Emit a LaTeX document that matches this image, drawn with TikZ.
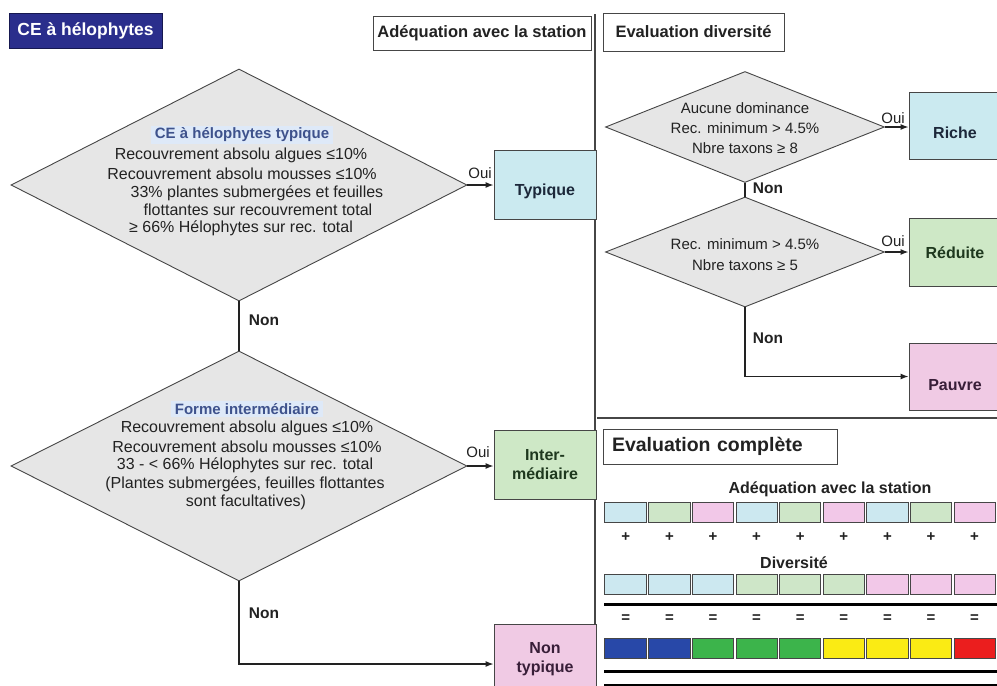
\documentclass[tikz,border=0pt]{standalone}
\usepackage{fontspec}
\setmainfont{Liberation Sans}
\usetikzlibrary{shapes.geometric,arrows.meta}

\definecolor{ink}{RGB}{34,34,34}
\definecolor{edge}{RGB}{70,70,70}
\definecolor{diamfill}{RGB}{230,230,230}
\definecolor{navy}{RGB}{42,46,140}
\definecolor{navyedge}{RGB}{22,24,80}
\definecolor{hlblue}{RGB}{222,233,248}
\definecolor{titleblue}{RGB}{62,82,140}
\definecolor{cyanbox}{RGB}{203,234,240}
\definecolor{greenbox}{RGB}{206,232,198}
\definecolor{pinkbox}{RGB}{240,202,228}
\definecolor{cyanink}{RGB}{28,40,58}
\definecolor{greenink}{RGB}{30,56,30}
\definecolor{pinkink}{RGB}{56,30,56}
\definecolor{cellblue}{RGB}{204,232,240}
\definecolor{cellgreen}{RGB}{206,230,200}
\definecolor{cellpink}{RGB}{242,200,232}
\definecolor{darkblue}{RGB}{40,72,168}
\definecolor{midgreen}{RGB}{60,180,75}
\definecolor{brightyellow}{RGB}{250,235,20}
\definecolor{brightred}{RGB}{235,30,30}

\tikzset{
  txt/.style={font=\fontsize{16}{18}\selectfont, text=ink, inner sep=0pt},
  small/.style={font=\fontsize{15}{17}\selectfont, text=ink, inner sep=0pt},
  bold/.style={font=\fontsize{15.5}{17}\bfseries\selectfont, text=ink, inner sep=0pt},
  hdr/.style={draw=edge, line width=0.9pt, fill=white, font=\fontsize{16.5}{18}\bfseries\selectfont, text=ink, inner sep=0pt},
  diam/.style={diamond, draw=edge, line width=0.9pt, fill=diamfill, inner sep=0pt},
  outbox/.style={draw=edge, line width=0.9pt, font=\fontsize{16}{19}\bfseries\selectfont, text=ink, align=center, inner sep=0pt},
  drop/.style={text height=#1, text depth=0pt},
  dtitle/.style={font=\fontsize{15}{17}\bfseries\selectfont, text=titleblue, fill=hlblue, inner xsep=4pt, inner ysep=2pt},
  conn/.style={draw=ink, line width=1.2pt},
  arr/.style={conn, -{Latex[length=8pt,width=6pt]}},
  cell/.style={draw=edge, line width=0.8pt},
  sep/.style={draw=black, line width=3pt},
}

\begin{document}
\begin{tikzpicture}[x=1pt,y=-1pt]
\useasboundingbox (0,0) rectangle (997,686);
\clip (0,0) rectangle (997,686);
\fill[white] (0,0) rectangle (997,686);

% ---------- headers ----------
\node[draw=navyedge, line width=1pt, fill=navy, text=white,
      font=\fontsize{17.5}{19}\bfseries\selectfont,
      minimum width=153pt, minimum height=35pt, inner sep=0pt] (title) at (85.5,30.5) {CE à hélophytes};
\node[hdr, minimum width=218pt, minimum height=34pt] (hadeq) at (482,33) {Adéquation avec la station};
\node[hdr, minimum width=181pt, minimum height=38pt] (hdiv) at (693.5,32) {Evaluation diversité};

% column divider and section rule
\coordinate (divtop) at (595,14);
\coordinate (divbot) at (595,690);
\draw[draw=edge, line width=1.8pt] (divtop) -- (divbot);
\coordinate (rulel) at (597,418);
\coordinate (ruler) at (1000,418);
\draw[draw=edge, line width=2.5pt] (rulel) -- (ruler);

% ---------- left flow: adequacy ----------
\node[diam, minimum width=456pt, minimum height=232pt] (d1) at (239,185) {};
\node[dtitle] (d1t) at (242,135) {CE à hélophytes typique};
\node[txt] (d1a) at (241,155) {Recouvrement absolu algues ≤10\%};
\node[txt] (d1b) at (242,174) {Recouvrement absolu mousses ≤10\%};
\node[txt] (d1c) at (257,193) {33\% plantes submergées et feuilles};
\node[txt] (d1d) at (258,210) {flottantes sur recouvrement total};
\node[txt] (d1e) at (241,228) {≥ 66\% Hélophytes sur rec. total};

\node[diam, minimum width=456pt, minimum height=230pt] (d2) at (239,466) {};
\node[dtitle] (d2t) at (247,409) {Forme intermédiaire};
\node[txt] (d2a) at (247,428) {Recouvrement absolu algues ≤10\%};
\node[txt] (d2b) at (247,447) {Recouvrement absolu mousses ≤10\%};
\node[txt] (d2c) at (245,465) {33 - < 66\% Hélophytes sur rec. total};
\node[txt] (d2d) at (245,484) {(Plantes submergées, feuilles flottantes};
\node[txt] (d2e) at (246,502) {sont facultatives)};

\node[outbox, drop=21.5pt, fill=cyanbox, text=cyanink, minimum width=102pt, minimum height=69pt] (typ) at (545,184.5) {Typique};
\node[outbox, fill=greenbox, text=greenink, minimum width=102pt, minimum height=69pt] (inter) at (545,464.5) {Inter-\\médiaire};
\node[outbox, fill=pinkbox, text=pinkink, minimum width=102pt, minimum height=70pt] (nontyp) at (545,659) {Non\\typique};

\draw[arr] (d1.east) -- (d1.east -| typ.west);
\draw[arr] (d2.east) -- (d2.east -| inter.west);
\draw[conn] (d1.south) -- (d2.north);
\draw[arr] (d2.south) |- ([yshift=-5pt]nontyp.west);

\node[small] (oui1) at (480,173) {Oui};
\node[small] (oui2) at (478,452) {Oui};
\node[bold] (non1) at (264,320) {Non};
\node[bold] (non2) at (264,613) {Non};

% ---------- right flow: diversity ----------
\node[diam, minimum width=279pt, minimum height=111pt] (d3) at (745,127) {};
\node[small] (d3a) at (745,108) {Aucune dominance};
\node[small] (d3b) at (745,128) {Rec. minimum > 4.5\%};
\node[small] (d3c) at (745,148) {Nbre taxons ≥ 8};

\node[diam, minimum width=279pt, minimum height=110pt] (d4) at (745,252) {};
\node[small] (d4a) at (745,244) {Rec. minimum > 4.5\%};
\node[small] (d4b) at (745,265) {Nbre taxons ≥ 5};

\node[outbox, drop=25.5pt, fill=cyanbox, text=cyanink, minimum width=92pt, minimum height=67pt] (riche) at (955,125.5) {Riche};
\node[outbox, drop=13.5pt, fill=greenbox, text=greenink, minimum width=92pt, minimum height=68pt] (reduite) at (955,252) {Réduite};
\node[outbox, drop=27.5pt, fill=pinkbox, text=pinkink, minimum width=92pt, minimum height=67pt] (pauvre) at (955,376.5) {Pauvre};

\draw[arr] (d3.east) -- (d3.east -| riche.west);
\draw[arr] (d4.east) -- (d4.east -| reduite.west);
\draw[conn] (d3.south) -- (d4.north);
\draw[arr] (d4.south) |- (pauvre.west);

\node[small] (oui3) at (893,118) {Oui};
\node[small] (oui4) at (893,241) {Oui};
\node[bold] (non3) at (768,188) {Non};
\node[bold] (non4) at (768,338) {Non};

% ---------- complete evaluation ----------
\node[draw=edge, line width=0.9pt, fill=white, font=\fontsize{19.5}{21}\bfseries\selectfont, text=ink,
      text width=216pt, align=left, inner xsep=9pt, inner ysep=0pt, minimum height=35pt] (hcomp) at (720,446.5) {Evaluation complète};

\node[bold, font=\fontsize{16}{18}\bfseries\selectfont] (ladeq) at (830,489) {Adéquation avec la station};
\node[bold, font=\fontsize{16}{18}\bfseries\selectfont] (ldiv) at (794,563) {Diversité};

% cell rows: left edges every 43.6 units from 604, double rule between cells
\foreach \c [count=\i from 0] in {cellblue,cellgreen,cellpink,cellblue,cellgreen,cellpink,cellblue,cellgreen,cellpink}{
  \pgfmathsetmacro{\xa}{604+43.6*\i+(\i>0?1.2:0)}
  \pgfmathsetmacro{\xb}{604+43.6*(\i+1)-1.2}
  \pgfmathsetmacro{\xm}{604+43.6*\i+21.8}
  \draw[cell, fill=\c] (\xa,502) rectangle (\xb,522);
  \node[bold, font=\fontsize{15}{17}\bfseries\selectfont] (plus\i) at (\xm,537) {+};
}
\foreach \c [count=\i from 0] in {cellblue,cellblue,cellblue,cellgreen,cellgreen,cellgreen,cellpink,cellpink,cellpink}{
  \pgfmathsetmacro{\xa}{604+43.6*\i+(\i>0?1.2:0)}
  \pgfmathsetmacro{\xb}{604+43.6*(\i+1)-1.2}
  \pgfmathsetmacro{\xm}{604+43.6*\i+21.8}
  \draw[cell, fill=\c] (\xa,574) rectangle (\xb,594);
  \node[bold, font=\fontsize{15}{17}\bfseries\selectfont] (eq\i) at (\xm,619) {=};
}
\foreach \c [count=\i from 0] in {darkblue,darkblue,midgreen,midgreen,midgreen,brightyellow,brightyellow,brightyellow,brightred}{
  \pgfmathsetmacro{\xa}{604+43.6*\i+(\i>0?1.2:0)}
  \pgfmathsetmacro{\xb}{604+43.6*(\i+1)-1.2}
  \draw[cell, fill=\c] (\xa,638) rectangle (\xb,658);
}

\coordinate (s1l) at (604,604); \coordinate (s1r) at (1000,604);
\coordinate (s2l) at (604,671); \coordinate (s2r) at (1000,671);
\coordinate (s3l) at (604,685); \coordinate (s3r) at (1000,685);
\draw[sep] (s1l) -- (s1r);
\draw[sep] (s2l) -- (s2r);
\draw[sep] (s3l) -- (s3r);
\end{tikzpicture}
\end{document}
